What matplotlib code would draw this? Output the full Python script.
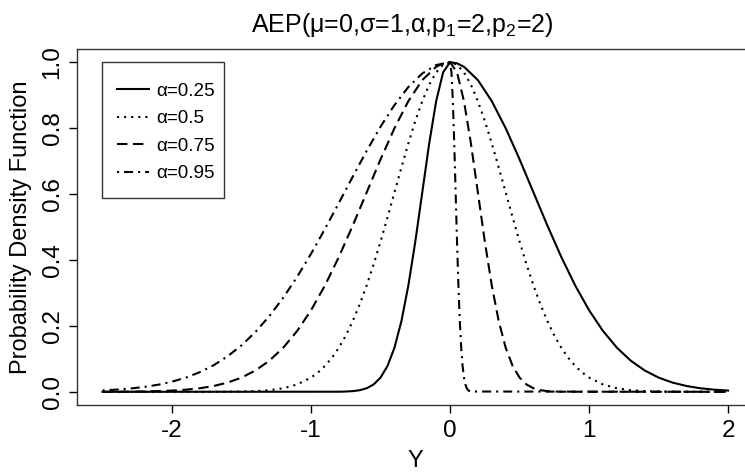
import matplotlib
matplotlib.use("Agg")
import matplotlib.pyplot as plt
from matplotlib.patches import Rectangle

plt.rcParams['font.family'] = ['Liberation Sans', 'DejaVu Sans']
plt.rcParams['mathtext.fontset'] = 'custom'
plt.rcParams['mathtext.rm'] = 'Liberation Sans'
plt.rcParams['mathtext.it'] = 'Liberation Sans'
plt.rcParams['mathtext.default'] = 'regular'
plt.rcParams['lines.scale_dashes'] = False

# ---- data ----
labels = ["α=0.25", "α=0.5", "α=0.75", "α=0.95"]

x_a025 = [-2.5, -0.8, -0.75, -0.7, -0.65, -0.6, -0.55, -0.5, -0.45, -0.4, -0.35, -0.3, -0.25,
          -0.2, -0.15, -0.1, -0.05, 0.0, 0.05, 0.1, 0.2, 0.3, 0.4, 0.5, 0.6, 0.7, 0.8, 0.9,
          1.0, 1.1, 1.2, 1.3, 1.4, 1.5, 1.6, 1.7, 1.8, 1.9, 2.0]
y_a025 = [0.0, 0.0003, 0.0009, 0.0021, 0.0049, 0.0108, 0.0223, 0.0432, 0.0785, 0.1339, 0.2145,
          0.3227, 0.4559, 0.6049, 0.7537, 0.8819, 0.9691, 1.0, 0.9965, 0.9861, 0.9457, 0.8819,
          0.7998, 0.7053, 0.6049, 0.5045, 0.4092, 0.3227, 0.2475, 0.1846, 0.1339, 0.0944,
          0.0648, 0.0432, 0.0280, 0.0177, 0.0108, 0.0065, 0.0038]

x_a050 = [-2.5, -1.7, -1.6, -1.5, -1.4, -1.3, -1.2, -1.1, -1.0, -0.95, -0.9, -0.85, -0.8,
          -0.75, -0.7, -0.65, -0.6, -0.55, -0.5, -0.45, -0.4, -0.35, -0.3, -0.25, -0.2,
          -0.15, -0.1, -0.05, 0.0, 0.05, 0.1, 0.15, 0.2, 0.25, 0.3, 0.35, 0.4, 0.45, 0.5,
          0.55, 0.6, 0.65, 0.7, 0.75, 0.8, 0.85, 0.9, 0.95, 1.0, 1.1, 1.2, 1.3, 1.4, 1.5,
          1.6, 1.7, 2.0]
y_a050 = [0.0, 0.0001, 0.0003, 0.0009, 0.0021, 0.0049, 0.0108, 0.0223, 0.0432, 0.0587,
          0.0785, 0.1033, 0.1339, 0.1708, 0.2145, 0.2652, 0.3227, 0.3866, 0.4559, 0.5293,
          0.6049, 0.6806, 0.7537, 0.8217, 0.8819, 0.9318, 0.9691, 0.9922, 1.0, 0.9922,
          0.9691, 0.9318, 0.8819, 0.8217, 0.7537, 0.6806, 0.6049, 0.5293, 0.4559, 0.3866,
          0.3227, 0.2652, 0.2145, 0.1708, 0.1339, 0.1033, 0.0785, 0.0587, 0.0432, 0.0223,
          0.0108, 0.0049, 0.0021, 0.0009, 0.0003, 0.0001, 0.0]

x_a075 = [-2.5, -2.4, -2.3, -2.2, -2.1, -2.0, -1.9, -1.8, -1.7, -1.6, -1.5, -1.4, -1.3,
          -1.2, -1.1, -1.0, -0.9, -0.8, -0.7, -0.6, -0.5, -0.4, -0.3, -0.2, -0.1, -0.05,
          0.0, 0.05, 0.1, 0.15, 0.2, 0.25, 0.3, 0.35, 0.4, 0.45, 0.5, 0.55, 0.6, 0.65, 0.7,
          0.75, 0.8, 2.0]
y_a075 = [0.0002, 0.0003, 0.0006, 0.0012, 0.0021, 0.0038, 0.0065, 0.0108, 0.0177, 0.0280,
          0.0432, 0.0648, 0.0944, 0.1339, 0.1846, 0.2475, 0.3227, 0.4092, 0.5045, 0.6049,
          0.7053, 0.7998, 0.8819, 0.9457, 0.9861, 0.9965, 1.0, 0.9691, 0.8819, 0.7537,
          0.6049, 0.4559, 0.3227, 0.2145, 0.1339, 0.0785, 0.0432, 0.0223, 0.0108, 0.0049,
          0.0021, 0.0009, 0.0003, 0.0]

x_a095 = [-2.5, -2.4, -2.3, -2.2, -2.1, -2.0, -1.9, -1.8, -1.7, -1.6, -1.5, -1.4, -1.3,
          -1.2, -1.1, -1.0, -0.9, -0.8, -0.7, -0.6, -0.5, -0.4, -0.3, -0.2, -0.1, 0.0,
          0.01, 0.02, 0.03, 0.04, 0.05, 0.06, 0.07, 0.08, 0.09, 0.10, 0.11, 0.12, 0.13,
          0.14, 0.15, 2.0]
y_a095 = [0.0043, 0.0067, 0.0100, 0.0148, 0.0215, 0.0308, 0.0432, 0.0596, 0.0808, 0.1078,
          0.1411, 0.1817, 0.2297, 0.2856, 0.3489, 0.4188, 0.4942, 0.5730, 0.6528, 0.7310,
          0.8045, 0.8700, 0.9247, 0.9658, 0.9913, 1.0, 0.9691, 0.8819, 0.7537, 0.6049,
          0.4559, 0.3227, 0.2145, 0.1339, 0.0785, 0.0432, 0.0223, 0.0108, 0.0049, 0.0021,
          0.0009, 0.0]

xticks = [-2, -1, 0, 1, 2]
xtick_labels = ["-2", "-1", "0", "1", "2"]
yticks = [0.0, 0.2, 0.4, 0.6, 0.8, 1.0]
ytick_labels = ["0.0", "0.2", "0.4", "0.6", "0.8", "1.0"]

# ---- figure ----
W, H = 745, 473
fig = plt.figure(figsize=(W / 100, H / 100), dpi=100)
ax_left, ax_top, ax_w, ax_h = 76.7, 49.0, 676.4, 356.0
ax = fig.add_axes([ax_left / W, 1 - (ax_top + ax_h) / H, ax_w / W, ax_h / H])


def axfrac(px, py):
    return ((px - ax_left) / ax_w, (ax_top + ax_h - py) / ax_h)


styles = [
    dict(linestyle='-'),
    dict(linestyle=(0, (1.5, 3.6))),
    dict(linestyle=(0, (7.5, 4.0))),
    dict(linestyle=(0, (1.5, 3.6, 6.5, 3.6))),
]
series = [(x_a025, y_a025), (x_a050, y_a050), (x_a075, y_a075), (x_a095, y_a095)]
for (xs, ys), st, lab in zip(series, styles, labels):
    ax.plot(xs, ys, color='black', linewidth=1.5, label=lab, **st)

ax.set_xlim(-2.686, 2.18)
ax.set_ylim(-0.04, 1.04)
ax.set_xticks(xticks)
ax.set_xticklabels(xtick_labels)
ax.set_yticks(yticks)
ax.set_yticklabels(ytick_labels, rotation=90, va='center')
ax.tick_params(direction='out', length=6, width=1, labelsize=17.5, colors='black')
ax.tick_params(axis='x', pad=5)
ax.tick_params(axis='y', pad=3.5)
for sp in ax.spines.values():
    sp.set_color('#333333')
    sp.set_linewidth(1.0)

fig.text((ax_left + ax_w / 2) / W, 6 / H, "Y", ha='center', va='baseline', fontsize=17)
fig.text(21 / W, 1 - (ax_top + ax_h / 2) / H, "Probability Density Function",
         rotation=90, ha='center', va='center', fontsize=17)

fig.text(402.5 / W, 1 - 32 / H, r"AEP(μ=0,σ=1,α,p$_1$=2,p$_2$=2)",
         ha='center', va='baseline', fontsize=18)

# legend: entries without frame, box drawn separately
leg = ax.legend(loc='upper left', bbox_to_anchor=axfrac(117, 82.8),
                borderaxespad=0, fontsize=13.6, frameon=False,
                handlelength=1.69, handletextpad=0.41, borderpad=0.0, labelspacing=0.54)
bx0, by0 = axfrac(101.7, 198.3)
bx1, by1 = axfrac(224.3, 62.3)
ax.add_patch(Rectangle((bx0, by0), bx1 - bx0, by1 - by0, transform=ax.transAxes,
                       fill=False, edgecolor='#333333', linewidth=1.0, zorder=5))

fig.savefig("out.png", dpi=100)
